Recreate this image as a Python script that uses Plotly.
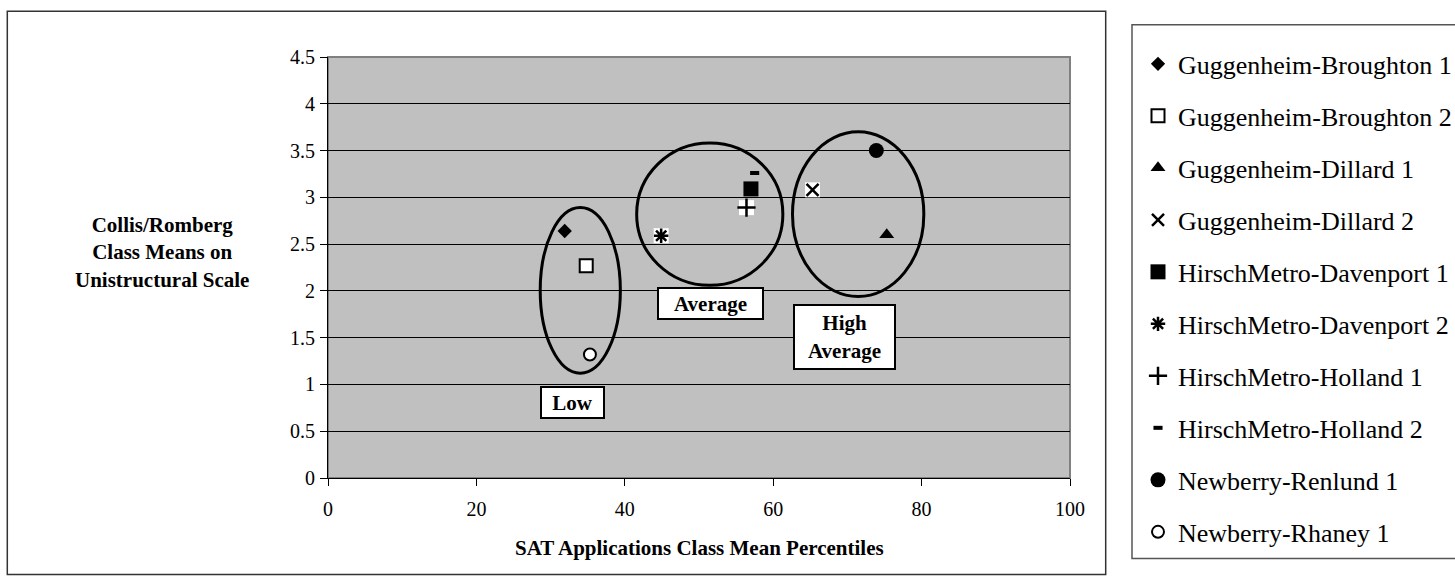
import plotly.graph_objects as go

# ---------------- data ----------------
series_names = [
    "Guggenheim-Broughton 1", "Guggenheim-Broughton 2", "Guggenheim-Dillard 1",
    "Guggenheim-Dillard 2", "HirschMetro-Davenport 1", "HirschMetro-Davenport 2",
    "HirschMetro-Holland 1", "HirschMetro-Holland 2", "Newberry-Renlund 1",
    "Newberry-Rhaney 1",
]
sat_percentiles = [31.9, 34.8, 75.3, 65.3, 57.0, 44.9, 56.4, 57.5, 73.9, 35.3]
unistructural_means = [2.64, 2.27, 2.60, 3.08, 3.09, 2.59, 2.89, 3.26, 3.50, 1.32]

x_ticks = [0, 20, 40, 60, 80, 100]
y_ticks = [0, 0.5, 1, 1.5, 2, 2.5, 3, 3.5, 4, 4.5]
y_tick_labels = ["0", "0.5", "1", "1.5", "2", "2.5", "3", "3.5", "4", "4.5"]

group_labels = ["Low", "Average", "High<br>Average"]
group_label_x = [33.0, 51.6, 69.55]
group_label_y = [0.81, 1.86, 1.51]
# ellipse extents for each group: (x0, x1, y0, y1)
group_x0 = [28.6, 41.6, 62.6]
group_x1 = [39.4, 61.3, 80.3]
group_y0 = [1.12, 2.06, 1.94]
group_y1 = [2.89, 3.58, 3.70]

# ---------------- styles ----------------
FONT = "Liberation Serif, Times New Roman, serif"
styles = [
    dict(symbol="diamond", size=11, color="black", line=dict(width=0)),
    dict(symbol="square", size=13, color="white", line=dict(color="black", width=2)),
    dict(symbol="triangle-up", size=13, color="black", line=dict(width=0)),
    dict(symbol="x-thin", size=12, color="black", line=dict(color="black", width=2.5)),
    dict(symbol="square", size=15, color="black", line=dict(width=0)),
    dict(symbol="asterisk", size=12, color="black", line=dict(color="black", width=2.5)),
    dict(symbol="cross-thin", size=13, color="black", line=dict(color="black", width=2.5)),
    dict(symbol="line-ew", size=6.5, color="black", line=dict(color="black", width=4)),
    dict(symbol="circle", size=15, color="black", line=dict(width=0)),
    dict(symbol="circle", size=12, color="white", line=dict(color="black", width=2)),
]
white_backed = [3, 5, 6]

fig = go.Figure()

# white square backgrounds behind line-type markers
fig.add_trace(go.Scatter(
    x=[sat_percentiles[i] for i in white_backed],
    y=[unistructural_means[i] for i in white_backed],
    mode="markers", showlegend=False, hoverinfo="skip",
    marker=dict(symbol="square", size=15, color="white", line=dict(width=0)),
))

for i, name in enumerate(series_names):
    fig.add_trace(go.Scatter(
        x=[sat_percentiles[i]], y=[unistructural_means[i]],
        mode="markers", name=name, legendgroup=f"g{i}",
        marker=styles[i],
    ))

# pixel helpers for decoration (plot area 328..1070 x, 56.6..478.3 y)
PL, PR, PT, PB = 328, 1070, 56.6, 478.3
def px(x):
    return (x - PL) / (PR - PL)
def py(y):
    return (PB - y) / (PB - PT)

shapes = []
for x0, x1, y0, y1 in zip(group_x0, group_x1, group_y0, group_y1):
    shapes.append(dict(type="circle", xref="x", yref="y", x0=x0, x1=x1, y0=y0, y1=y1,
                       line=dict(color="black", width=3)))
# plot-area border
shapes.append(dict(type="rect", xref="paper", yref="paper", x0=0, x1=1, y0=0, y1=1,
                   line=dict(color="#808080", width=2), layer="below"))
# chart outer border
shapes.append(dict(type="rect", xref="paper", yref="paper",
                   x0=px(7.3), x1=px(1105.7), y0=py(575), y1=py(10.7),
                   line=dict(color="#333333", width=1.5)))
# legend box
shapes.append(dict(type="rect", xref="paper", yref="paper",
                   x0=px(1132), x1=px(1470), y0=py(559), y1=py(24.3),
                   line=dict(color="#555555", width=1.5)))

annotations = []
for lab, lx, ly in zip(group_labels, group_label_x, group_label_y):
    two = "<br>" in lab
    w = 97 if two else (101 if lab == "Average" else 59)
    h = 60 if two else 27
    annotations.append(dict(
        x=lx, y=ly, xref="x", yref="y", text=f"<b>{lab}</b>", showarrow=False,
        font=dict(family=FONT, size=21, color="black"),
        bgcolor="white", bordercolor="black", borderwidth=2, borderpad=1,
        width=w, height=h, align="center", valign="middle",
    ))
annotations.append(dict(
    x=px(162), y=py(252), xref="paper", yref="paper",
    text="<b>Collis/Romberg<br>Class Means on<br>Unistructural Scale</b>",
    showarrow=False, font=dict(family=FONT, size=21, color="black"),
    xanchor="center", yanchor="middle", align="center",
))
annotations.append(dict(
    x=0.5, y=py(548), xref="paper", yref="paper",
    text="<b>SAT Applications Class Mean Percentiles</b>",
    showarrow=False, font=dict(family=FONT, size=21, color="black"),
    xanchor="center", yanchor="middle",
))

fig.update_layout(
    width=1455, height=581,
    margin=dict(l=PL, r=1455 - PR, t=PT, b=581 - PB, pad=0, autoexpand=False),
    paper_bgcolor="white", plot_bgcolor="#C0C0C0",
    font=dict(family=FONT, size=20, color="black"),
    showlegend=True,
    legend=dict(
        x=px(1138), y=py(40.0), xanchor="left", yanchor="top",
        font=dict(family=FONT, size=26, color="black"),
        bgcolor="rgba(0,0,0,0)", borderwidth=0, tracegroupgap=15.2,
        maxheight=560,
        itemclick=False, itemdoubleclick=False,
    ),
    shapes=shapes, annotations=annotations,
)
fig.update_xaxes(
    range=[0, 100], tickvals=x_ticks, ticktext=[str(t) for t in x_ticks],
    showgrid=False, zeroline=False, showline=True, linecolor="black", linewidth=1,
    ticks="outside", ticklen=7, tickcolor="black", tickwidth=1,
    tickfont=dict(family=FONT, size=20, color="black"), ticklabelstandoff=6,
)
fig.update_yaxes(
    range=[0, 4.5], tickvals=y_ticks, ticktext=y_tick_labels,
    showgrid=True, gridcolor="black", gridwidth=1, zeroline=False,
    showline=True, linecolor="black", linewidth=1,
    ticks="outside", ticklen=7, tickcolor="black", tickwidth=1,
    tickfont=dict(family=FONT, size=20, color="black"), ticklabelstandoff=1,
)

fig.write_html("out.html")
